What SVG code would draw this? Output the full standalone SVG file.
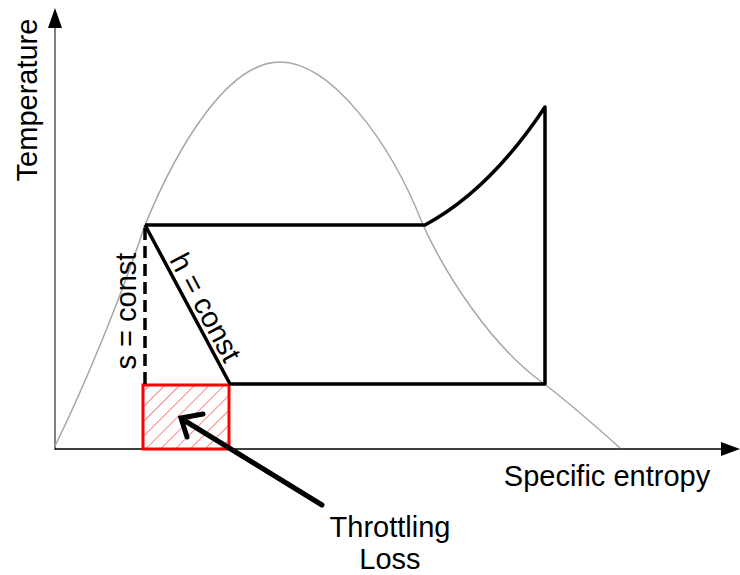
<svg xmlns="http://www.w3.org/2000/svg" width="740" height="575" viewBox="0 0 740 575">
<style>
.lbl{font-family:"Liberation Sans",Arial,sans-serif;font-size:29px;fill:#000}
.cyc{fill:none;stroke:#000;stroke-width:3.5;stroke-linejoin:round}
</style>
<defs>
<pattern id="hatch" patternUnits="userSpaceOnUse" width="10.5" height="10.5" patternTransform="rotate(45)">
<line x1="0" y1="0" x2="0" y2="10.5" stroke="#ff7070" stroke-width="1.7"/>
</pattern>
</defs>
<rect width="740" height="575" fill="#fff"/>
<g id="axes">
<line x1="55" y1="450" x2="55" y2="26" stroke="#808080" stroke-width="2"/>
<polygon points="55,8 48,28 62,28" fill="#000"/>
<line x1="55" y1="449" x2="724" y2="449" stroke="#000" stroke-width="1.5"/>
<polygon points="740,449 721,442 721,456" fill="#000"/>
</g>
<g id="dome">
<path d="M55,446 C85,385 120,300 145,225 C178,145 228,62 280,62 C330,62 390,140 423,225 C445,273 490,345 543,383 C572,405 600,430 620,448" fill="none" stroke="#a6a6a6" stroke-width="1.5"/>
</g>
<g id="loss-area">
<rect x="143" y="385" width="86" height="64" fill="url(#hatch)" stroke="#ff0000" stroke-width="3"/>
</g>
<g id="connectors">
<line x1="145" y1="228" x2="145" y2="384" stroke="#000" stroke-width="3.5" stroke-dasharray="12,6"/>
<path class="cyc" d="M145,225 L425,225 Q490,190 545,107 L545,384 L230,384 L145,225"/>
<line x1="322" y1="505" x2="182" y2="419" stroke="#000" stroke-width="5" stroke-linecap="round"/>
<polyline points="203,414 181,418 187,437" fill="none" stroke="#000" stroke-width="5" stroke-linecap="round" stroke-linejoin="miter"/>
</g>
<g id="labels">
<text class="lbl" transform="translate(37,100) rotate(-90)" text-anchor="middle">Temperature</text>
<text class="lbl" transform="translate(136,311) rotate(-90)" text-anchor="middle">s = const</text>
<text class="lbl" transform="translate(197,312) rotate(61.9)" text-anchor="middle">h = const</text>
<text class="lbl" x="607" y="486" text-anchor="middle">Specific entropy</text>
<text class="lbl" x="390" y="537" text-anchor="middle">Throttling</text>
<text class="lbl" x="390" y="569" text-anchor="middle">Loss</text>
</g>
</svg>
